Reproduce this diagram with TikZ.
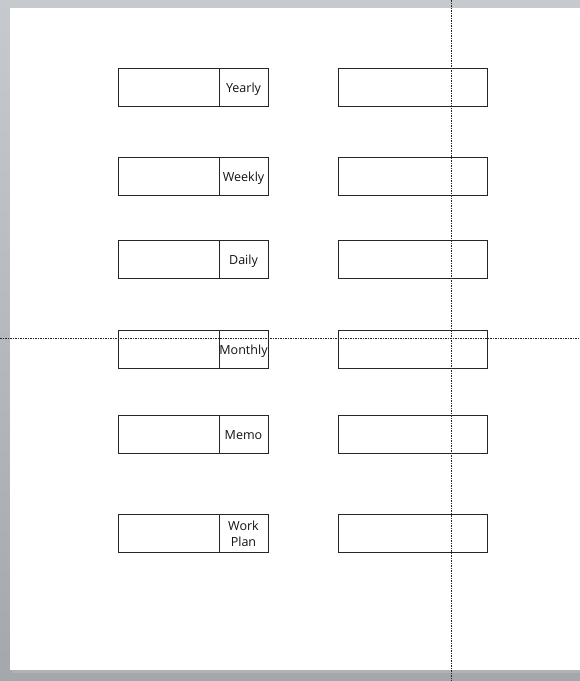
\documentclass[tikz,border=0pt]{standalone}
\usepackage{fontspec}
\setmainfont{Open Sans}
\definecolor{bgtop}{HTML}{C6C9CE}
\definecolor{bgbot}{HTML}{A4A8AD}
\definecolor{txt}{HTML}{141414}
\begin{document}
\begin{tikzpicture}[x=0.75pt,y=-0.75pt,
  cell/.style={draw=black!85, line width=0.75pt, minimum height=28.5pt, inner sep=0pt, outer sep=0pt, anchor=north west, fill=white},
  mainbox/.style={cell, minimum width=75.75pt},
  tagbox/.style={cell, minimum width=36.75pt, font=\fontsize{9.4}{12}\selectfont, text=txt, align=center, text height=8.6pt, text depth=1.6pt},
  twoline/.style={text height={}, text depth={}},
  rightbox/.style={cell, minimum width=111.75pt},
  guide/.style={line width=0.75pt, dash pattern=on 1.5pt off 0.75pt on 0.75pt off 0.75pt, black!85}]
\useasboundingbox (0,0) rectangle (580,681);
\shade[top color=bgtop, bottom color=bgbot] (0,0) rectangle (580,681);
\fill[black!30] (12,11) rectangle (580,673);
\fill[white] (10,8) rectangle (580,670);
% rows
\foreach \i/\y/\t in {1/68.5/Yearly, 2/157.5/Weekly, 3/240.5/Daily, 4/330.5/Monthly, 5/415.5/Memo} {
  \node[mainbox] (l\i) at (118,\y) {};
  \node[tagbox] (t\i) at (219,\y) {\t};
  \node[rightbox] (r\i) at (338,\y) {};
}
\node[mainbox] (l6) at (118,514.5) {};
\node[tagbox, twoline] (t6) at (219,514.5) {Work\\Plan};
\node[rightbox] (r6) at (338,514.5) {};
% guide lines
\coordinate (hA) at (0,338);
\coordinate (hB) at (580,338);
\coordinate (vA) at (451,0);
\coordinate (vB) at (451,681);
\draw[guide] (hA) -- (hB);
\draw[guide] (vA) -- (vB);
\end{tikzpicture}
\end{document}
